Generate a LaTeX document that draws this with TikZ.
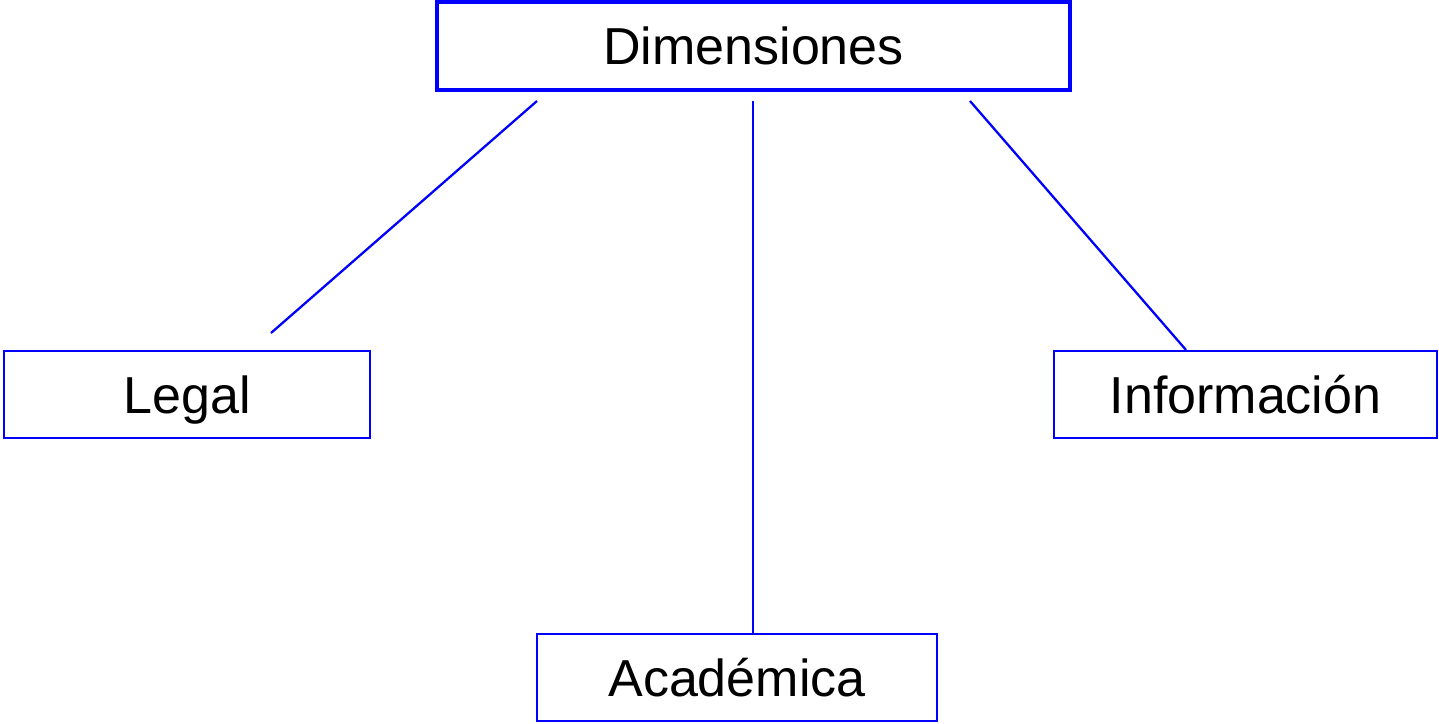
\documentclass[tikz,border=0pt]{standalone}
\usepackage{fontspec}
\setmainfont{Liberation Sans}
\usepackage{xcolor}
\begin{document}
\begin{tikzpicture}[
  caja/.style = {draw=blue, line width=1.2pt, minimum height=1.74cm, inner sep=0pt,
                 text height=21.2pt, text depth=0pt, font=\fontsize{29.6}{34}\selectfont},
  rama/.style = {draw=blue, line width=1.3pt}]
\useasboundingbox (0,0) rectangle (28.78,-14.46);
\def\ytop{-2.02}
\node[caja, line width=2.28pt, minimum width=12.66cm, minimum height=1.76cm] (dim) at (15.07,-0.92) {Dimensiones};
\node[caja, minimum width=7.32cm] (legal) at (3.74,-7.89) {Legal};
\node[caja, minimum width=7.66cm] (info) at (24.91,-7.89) {Información};
\node[caja, minimum width=8cm] (acad) at (14.74,-13.55) {Académica};
% extremos sueltos de las ramas
\coordinate (l1) at (10.74,\ytop);
\coordinate (l2) at (5.42,-6.66);
\coordinate (a1) at (15.06,\ytop);
\coordinate (i1) at (19.4,\ytop);
\coordinate (i2) at (23.72,\ytop);
\draw[rama] (l1) -- (l2);
\draw[rama] (a1) -- (a1 |- acad.north);
\draw[rama] (i1) -- (i2 |- info.north);
\end{tikzpicture}
\end{document}
